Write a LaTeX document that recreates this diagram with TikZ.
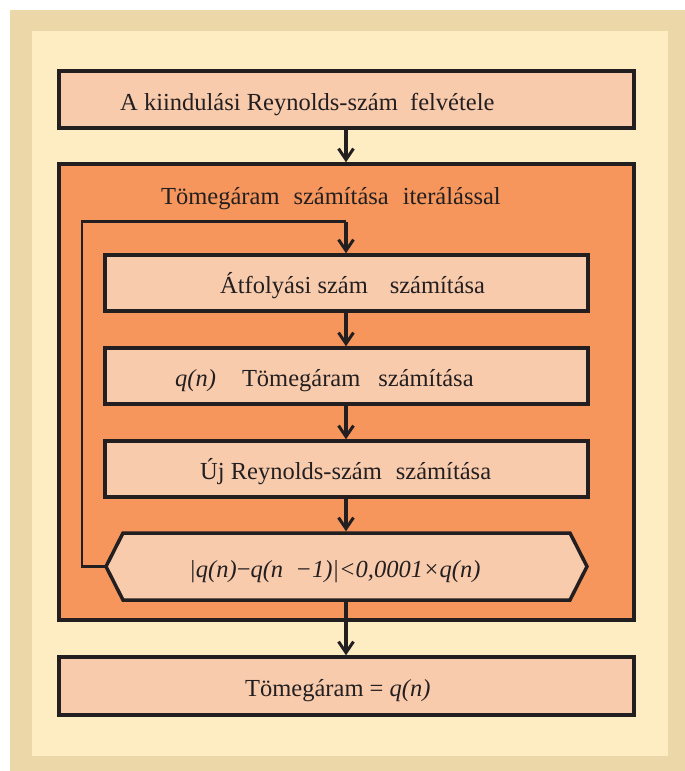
\documentclass[tikz,border=0pt]{standalone}
\usepackage{fontspec}
\setmainfont{Liberation Serif}
\usetikzlibrary{arrows.meta}
\definecolor{tanframe}{HTML}{EBD7A8}
\definecolor{creamfill}{HTML}{FEEDC3}
\definecolor{peach}{HTML}{F9CBAD}
\definecolor{orangefill}{HTML}{F6965C}
\definecolor{ink}{HTML}{231F20}
\tikzset{
  box/.style={draw=ink, fill=peach, line width=3.5pt, rectangle, inner sep=0pt},
  iterbox/.style={draw=ink, fill=orangefill, line width=3.5pt, rectangle, inner sep=0pt},
  lbl/.style={anchor=base west, inner sep=0pt, text=ink, font=\fontsize{24.5}{28}\selectfont},
  flow/.style={draw=ink, line width=3.3pt, -{Straight Barb[length=11pt,width=15pt,line width=3pt]}},
  loopline/.style={draw=ink, line width=2.6pt},
}
\begin{document}
\begin{tikzpicture}[x=1pt,y=-1pt]
\useasboundingbox (0,0) rectangle (685,771);
% background frames
\fill[tanframe] (10,9.5) rectangle (685,771);
\fill[creamfill] (32,31) rectangle (667.5,756);
% boxes
\node[box, minimum width=575pt, minimum height=57pt] (b1) at (346.5,99.5) {};
\node[iterbox, minimum width=575pt, minimum height=456pt] (iter) at (346.5,392) {};
\node[box, minimum width=575pt, minimum height=58pt] (bend) at (346.5,686) {};
\node[box, minimum width=483pt, minimum height=56pt] (b2) at (346.5,283) {};
\node[box, minimum width=483pt, minimum height=56pt] (b3) at (346.5,376) {};
\node[box, minimum width=483pt, minimum height=56pt] (b4) at (346.5,469) {};
% hexagon decision
\coordinate (hexW) at (106,566.5);
\coordinate (hexE) at (587,566.5);
\coordinate (hexN) at (346,533);
\coordinate (hexS) at (346,600);
\draw[box, line join=miter] (123,533) -- (570,533) -- (hexE) -- (570,600) -- (123,600) -- (hexW) -- cycle;
% texts
\node[lbl] (t1) at (120,110) {A kiindulási Reynolds-szám\ \ felvétele};
\node[lbl] (ttitle) at (161,204) {Tömegáram\hspace{14pt}számítása\hspace{14pt}iterálással};
\node[lbl] (t2) at (220,293) {Átfolyási szám\hspace{22pt}számítása};
\node[lbl] (t3) at (175,386) {\textit{q(n)}\hspace{26pt}Tömegáram\hspace{18pt}számítása};
\node[lbl] (t4) at (200,479) {Új Reynolds-szám\hspace{14pt}számítása};
\node[lbl] (thex) at (189,577) {\textit{|q(n)}−\textit{q(n\ \ −1)|<0,0001×q(n)}};
\node[lbl] (tend) at (245,696) {Tömegáram = \textit{q(n)}};
% connectors
\coordinate (loopA) at (82,566.5);
\coordinate (loopB) at (82,221.5);
\coordinate (loopC) at (346,221.5);
\draw[flow] (b1.south -| hexN) -- (iter.north -| hexN);
\draw[loopline] (hexW) -- (loopA) -- (loopB) -- (loopC);
\draw[flow] (loopC) -- (b2.north -| hexN);
\draw[flow] (b2.south -| hexN) -- (b3.north -| hexN);
\draw[flow] (b3.south -| hexN) -- (b4.north -| hexN);
\draw[flow] (b4.south -| hexN) -- ([yshift=1.75pt]hexN);
\draw[flow] ([yshift=-1.75pt]hexS) -- (bend.north -| hexN);
\end{tikzpicture}
\end{document}
